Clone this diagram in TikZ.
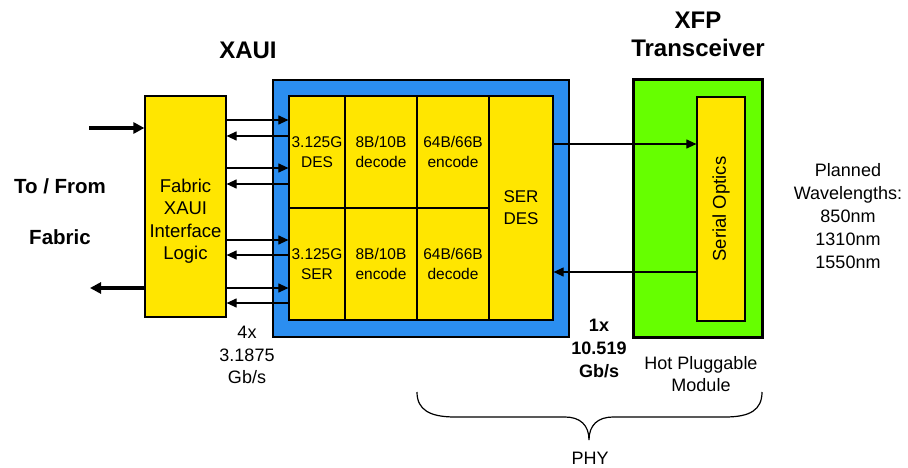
\documentclass[tikz,border=0pt]{standalone}
\usepackage{fontspec}
\setmainfont{Liberation Sans}
\usetikzlibrary{arrows.meta}

\definecolor{cellyellow}{RGB}{255,230,0}
\definecolor{xauiblue}{RGB}{43,142,240}
\definecolor{xfpgreen}{RGB}{102,255,0}

\begin{document}
\begin{tikzpicture}[x=1pt,y=-1pt,
    box/.style={draw,line width=1.2pt,fill=cellyellow,inner sep=0pt,align=center},
    cell/.style={box,font=\fontsize{15.5}{20}\selectfont},
    sarr/.style={-{Triangle[length=10pt,width=9pt]},line width=1.1pt},
    barr/.style={-{Triangle[length=11pt,width=11pt]},line width=3.5pt},
    txt/.style={align=center,font=\fontsize{18}{23}\selectfont},
    title/.style={align=center,font=\bfseries\fontsize{24}{28}\selectfont}]
    \useasboundingbox (0,0) rectangle (908,468);

    \node[draw,line width=1.2pt,fill=xauiblue,minimum width=296pt,minimum height=257pt] (xaui) at (421,208.5) {};
    \node[draw,line width=3pt,fill=xfpgreen,minimum width=129pt,minimum height=257pt] (xfp) at (697.5,208.5) {};

    \node[box,minimum width=81pt,minimum height=221pt] (fab) at (185.5,206.5) {};
    \node[txt,font=\fontsize{18.5}{22.5}\selectfont] (fabtext) at ([yshift=-14.5pt]fab.center) {Fabric\\XAUI\\Interface\\Logic};

    \node[cell,minimum width=56pt,minimum height=112pt] (des) at (317,152) {3.125G\\DES};
    \node[cell,minimum width=72pt,minimum height=112pt] (dec8) at (381,152) {8B/10B\\decode};
    \node[cell,minimum width=72pt,minimum height=112pt] (enc64) at (453,152) {64B/66B\\encode};
    \node[cell,minimum width=56pt,minimum height=112pt] (ser) at (317,264) {3.125G\\SER};
    \node[cell,minimum width=72pt,minimum height=112pt] (enc8) at (381,264) {8B/10B\\encode};
    \node[cell,minimum width=72pt,minimum height=112pt] (dec64) at (453,264) {64B/66B\\decode};
    \node[box,font=\fontsize{17}{22}\selectfont,minimum width=64pt,minimum height=224pt] (serdes) at (521,208) {SER\\DES};

    \node[box,minimum width=48pt,minimum height=224pt] (optics) at (721,209) {};
    \node[rotate=90,font=\fontsize{18.5}{22}\selectfont] (opttext) at (optics.center) {Serial Optics};

    \foreach \c/\y in {des/120,des/168,ser/240,ser/288}
        \draw[sarr] (fab.east |- 0,\y) -- (\c.west |- 0,\y);
    \foreach \c/\y in {des/136,des/184,ser/255,ser/303}
        \draw[sarr] (\c.west |- 0,\y) -- (fab.east |- 0,\y);
    \draw[sarr] (serdes.east |- 0,144) -- (optics.west |- 0,144);
    \draw[sarr] (optics.west |- 0,272) -- (serdes.east |- 0,272);

    \coordinate (fin) at (89,128);
    \coordinate (fout) at (90,288);
    \draw[barr] (fin) -- (fab.west |- fin);
    \draw[barr] (fab.west |- fout) -- (fout);

    \draw[line width=1.2pt] (417,392) .. controls (417,410) and (430,417) .. (455,417) -- (565,417)
        .. controls (580,417) and (589,425) .. (589,440)
        .. controls (589,425) and (598,417) .. (613,417) -- (725,417)
        .. controls (750,417) and (762,410) .. (762,392);

    \node[title] (xauititle) at (248,50) {XAUI};
    \node[title] (xfptitle) at (698,34) {XFP\\Transceiver};
    \node[font=\bfseries\fontsize{20.5}{24}\selectfont] (tofrom) at (60,186) {To / From};
    \node[font=\bfseries\fontsize{20.5}{24}\selectfont] (fabric) at (60,237) {Fabric};
    \node[txt] (wave) at (848,216) {Planned\\Wavelengths:\\850nm\\1310nm\\1550nm};
    \node[txt,font=\bfseries\fontsize{18}{23}\selectfont] (rate1) at (599,348) {1x\\10.519\\Gb/s};
    \node[txt,font=\fontsize{18}{22.5}\selectfont] (rate4) at (247,355) {4x\\3.1875\\Gb/s};
    \node[txt,font=\fontsize{18}{22}\selectfont] (hot) at (701,374) {Hot Pluggable\\Module};
    \node[txt] (phy) at (590,458) {PHY};
\end{tikzpicture}
\end{document}
